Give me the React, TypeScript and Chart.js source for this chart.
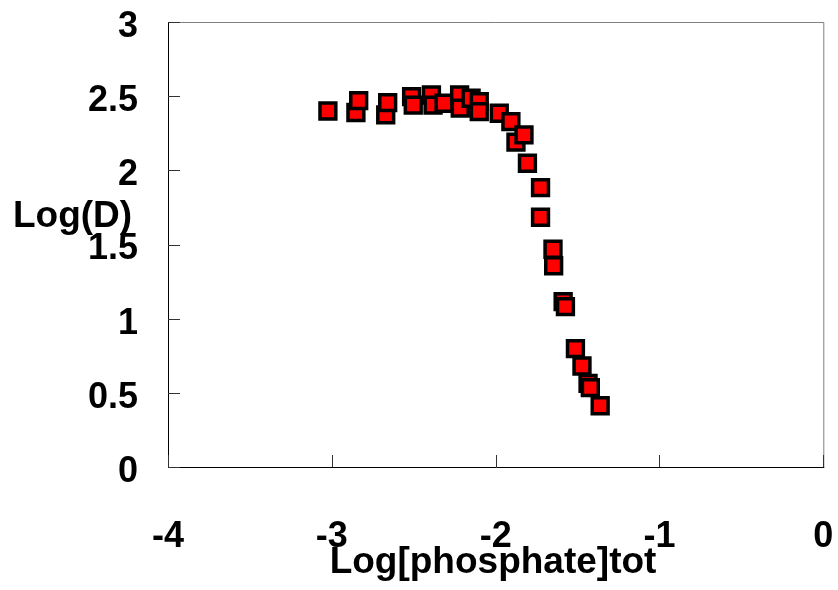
import React, { useEffect, useRef } from "react";
import { Chart, registerables } from "chart.js";

Chart.register(...registerables);

const xValues: number[] = [-3.024, -2.853, -2.836, -2.671, -2.659, -2.513, -2.503, -2.392, -2.382, -2.315, -2.22, -2.216, -2.15, -2.1, -2.1, -1.978, -1.907, -1.876, -1.827, -1.806, -1.726, -1.726, -1.65, -1.646, -1.588, -1.574, -1.513, -1.473, -1.436, -1.422, -1.362];
const yValues: number[] = [2.40, 2.39, 2.47, 2.374, 2.456, 2.497, 2.44, 2.508, 2.44, 2.452, 2.508, 2.419, 2.486, 2.463, 2.396, 2.385, 2.328, 2.19, 2.239, 2.048, 1.883, 1.684, 1.468, 1.357, 1.115, 1.081, 0.798, 0.681, 0.564, 0.535, 0.413];

const xTicks: number[] = [-4, -3, -2, -1, 0];
const yTicks: number[] = [0, 0.5, 1, 1.5, 2, 2.5, 3];
const xTitle = "Log[phosphate]tot";
const yTitle = "Log(D)";

const FONT = "'Liberation Sans', Arial, sans-serif";

const framePlugin = {
  id: "frame",
  afterDraw(chart: any) {
    const { ctx, chartArea } = chart;
    const { left, right, top, bottom } = chartArea;
    const xs = chart.scales.x;
    const ys = chart.scales.y;
    ctx.save();
    ctx.lineWidth = 1;
    ctx.strokeStyle = "#808080";
    ctx.beginPath();
    ctx.moveTo(left, top + 0.5);
    ctx.lineTo(right + 0.5, top + 0.5);
    ctx.lineTo(right + 0.5, bottom);
    ctx.stroke();
    ctx.strokeStyle = "#000";
    ctx.beginPath();
    ctx.moveTo(left + 0.5, top);
    ctx.lineTo(left + 0.5, bottom + 0.5);
    ctx.lineTo(right + 1, bottom + 0.5);
    ctx.stroke();
    ctx.strokeStyle = "#333";
    ctx.beginPath();
    yTicks.forEach((v) => {
      const py = Math.round(ys.getPixelForValue(v)) + 0.5;
      ctx.moveTo(left, py);
      ctx.lineTo(left + 12, py);
    });
    xTicks.forEach((v) => {
      const px = Math.round(xs.getPixelForValue(v)) + 0.5;
      ctx.moveTo(px, bottom);
      ctx.lineTo(px, bottom - 12);
    });
    ctx.stroke();
    ctx.fillStyle = "#000";
    ctx.textBaseline = "alphabetic";
    ctx.font = `bold 37px ${FONT}`;
    ctx.textAlign = "center";
    ctx.fillText(xTitle, 493, 573);
    ctx.font = `bold 37px ${FONT}`;
    ctx.textAlign = "left";
    ctx.fillText(yTitle, 13, 227);
    ctx.restore();
  },
};

export default function App() {
  const ref = useRef<HTMLCanvasElement | null>(null);
  useEffect(() => {
    if (!ref.current) return;
    const data = xValues.map((x, i) => ({ x, y: yValues[i] }));
    const chart = new Chart(ref.current, {
      type: "scatter",
      data: {
        datasets: [
          {
            data,
            pointStyle: "rect",
            pointRadius: 11.2,
            pointHoverRadius: 11.2,
            backgroundColor: "#ff0000",
            borderColor: "#000000",
            borderWidth: 3.5,
          },
        ],
      },
      options: {
        animation: false,
        responsive: false,
        devicePixelRatio: 1,
        layout: { padding: { top: 22, right: 12, left: 0, bottom: 0 } },
        plugins: { legend: { display: false }, tooltip: { enabled: false } },
        scales: {
          x: {
            type: "linear",
            min: -4,
            max: 0,
            afterBuildTicks: (s: any) => {
              s.ticks = xTicks.map((v) => ({ value: v }));
            },
            afterFit: (s: any) => {
              s.height = 123;
              s.paddingLeft = 0;
              s.paddingRight = 0;
            },
            grid: { display: false, drawTicks: false },
            border: { display: false },
            ticks: {
              padding: 48,
              color: "#000",
              font: { family: FONT, size: 36, weight: "bold" },
              maxRotation: 0,
              autoSkip: false,
              callback: (v: any) => String(v),
            },
          },
          y: {
            type: "linear",
            min: 0,
            max: 3,
            afterBuildTicks: (s: any) => {
              s.ticks = yTicks.map((v) => ({ value: v }));
            },
            afterFit: (s: any) => {
              s.width = 168;
              s.paddingTop = 0;
              s.paddingBottom = 0;
            },
            grid: { display: false, drawTicks: false },
            border: { display: false },
            ticks: {
              padding: 30,
              labelOffset: 5,
              color: "#000",
              font: { family: FONT, size: 36, weight: "bold" },
              autoSkip: false,
              callback: (v: any) => String(v),
            },
          },
        },
      },
      plugins: [framePlugin],
    });
    return () => chart.destroy();
  }, []);
  return (
    <div style={{ position: "absolute", left: 0, top: 0, width: 838, height: 590, background: "#fff" }}>
      <canvas ref={ref} width={838} height={590} />
    </div>
  );
}
